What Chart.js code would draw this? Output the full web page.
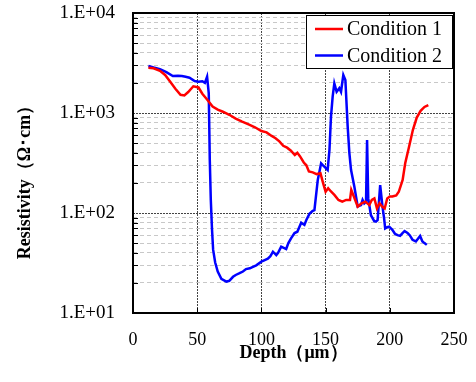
<!DOCTYPE html>
<html>
<head>
<meta charset="utf-8">
<script src="https://cdn.jsdelivr.net/npm/chart.js@4.4.1/dist/chart.umd.min.js"></script>
<style>
  html, body { margin: 0; padding: 0; background: #fff; }
  #wrap { width: 476px; height: 382px; }
</style>
</head>
<body>
<div id="wrap"><canvas id="resChart" width="476" height="382"></canvas></div>
<script>
const seriesNames = ["Condition 1", "Condition 2"];
const seriesColors = ["#FF0000", "#0000FF"];

const depth1 = [12, 16, 21, 25, 29, 33, 37, 40, 43, 47, 51, 54, 58, 62, 66, 70, 75, 80, 85, 90,
  95, 100, 104, 108, 111, 114, 117, 120, 123, 126, 128, 130, 133, 135, 137, 140, 143, 146, 148, 150,
  152, 154, 157, 160, 163, 166, 169, 170, 172, 175, 178, 181, 184, 186, 188, 190, 192, 194, 196, 198,
  200, 202, 205, 207, 210, 212, 215, 218, 221, 224, 227, 230];
const resist1 = [2840, 2800, 2640, 2400, 2050, 1750, 1520, 1500, 1620, 1850, 1800, 1560, 1350, 1160, 1080, 1030, 960, 880, 820, 770,
  720, 660, 640, 590, 560, 520, 470, 450, 420, 380, 400, 370, 320, 300, 260, 255, 245, 250, 200, 163,
  177, 165, 151, 135, 130, 135, 135, 170, 146, 116, 125, 130, 120, 135, 140, 111, 125, 116, 111, 140,
  146, 146, 150, 163, 214, 314, 460, 680, 900, 1050, 1150, 1200];

const depth2 = [12, 16, 21, 26, 31, 35, 38, 41, 44, 48, 51, 54, 56, 57.7, 59, 59.8, 60.6, 61.5, 62.4, 64,
  66, 68.8, 72.7, 75, 77.9, 80, 83, 85.6, 88, 91, 93.4, 96, 100, 103, 105, 107, 109, 111.6, 113, 115.4,
  117, 119.3, 121, 123.2, 125.8, 128, 131, 133.5, 135, 137.4, 140, 141.3, 143.9, 146.5, 148, 150.4, 151.6, 153, 154.2, 155.5,
  156.8, 158.6, 160.7, 162, 163.8, 165.4, 167.2, 168.5, 169.8, 172.4, 175, 177.6, 178.8, 180.1, 181.5, 182.3, 183.2, 185.3, 187.9, 189.2,
  190.5, 192.5, 194.3, 195.5, 196.4, 198, 199.5, 202, 204, 206, 208, 209.9, 211.5, 213.8, 215.5, 217.7, 220.3, 223.6, 225.4, 227, 228.8];
const resist2 = [2950, 2850, 2740, 2560, 2340, 2360, 2340, 2300, 2250, 2090, 2050, 2080, 2000, 2310, 1570, 340, 135, 70, 43, 32,
  26, 22, 20.6, 21, 23, 24, 25, 26, 27.5, 28, 29, 30, 32.6, 34, 35, 37, 41, 38, 40, 46,
  45, 43.6, 50, 56, 63, 65, 80, 76, 85, 98, 105, 107, 214, 314, 300, 280, 270, 427, 920, 1460,
  1980, 1630, 1770, 1630, 2400, 2140, 730, 400, 270, 183, 116, 120, 135, 125, 130, 537, 140, 95, 83, 82,
  85, 190, 116, 90, 70, 72, 73, 68, 62, 60, 59, 63, 66, 63, 60, 54, 52, 59, 52, 50, 48];

const xTicks = [0, 50, 100, 150, 200, 250];
const yDecades = [10, 100, 1000, 10000];

const serif = "'Liberation Serif', 'Times New Roman', serif";

function toPoints(xs, ys) {
  return xs.map((x, i) => ({ x: x, y: ys[i] }));
}

function isDecade(v) {
  return yDecades.indexOf(v) >= 0;
}

const frame = {
  id: "frame",
  afterDraw(chart) {
    const ctx = chart.ctx;
    const a = chart.chartArea;
    const ys = chart.scales.y;
    const xs = chart.scales.x;
    ctx.save();
    // inward tick marks
    ctx.strokeStyle = "#000";
    ctx.lineWidth = 1;
    ys.ticks.forEach(t => {
      if (isDecade(t.value)) return;
      const py = Math.round(ys.getPixelForValue(t.value)) + 0.5;
      ctx.beginPath();
      ctx.moveTo(a.left, py);
      ctx.lineTo(a.left + 5, py);
      ctx.stroke();
    });
    xs.ticks.forEach(t => {
      const px = Math.round(xs.getPixelForValue(t.value)) + 0.5;
      ctx.beginPath();
      ctx.moveTo(px, a.bottom);
      ctx.lineTo(px, a.bottom - 5);
      ctx.stroke();
    });
    // plot border
    ctx.lineWidth = 2;
    ctx.strokeRect(a.left, a.top, a.right - a.left, a.bottom - a.top);

    // legend box
    const lx = a.right - 148, ly = a.top + 2, lw = 146, lh = 53;
    ctx.fillStyle = "#fff";
    ctx.fillRect(lx, ly, lw, lh);
    ctx.lineWidth = 1;
    ctx.strokeStyle = "#000";
    ctx.strokeRect(lx + 0.5, ly + 0.5, lw, lh);
    ctx.font = "20px " + serif;
    ctx.textBaseline = "middle";
    ctx.textAlign = "left";
    chart.data.datasets.forEach((ds, i) => {
      const yy = ly + 14 + i * 26.5;
      ctx.strokeStyle = ds.borderColor;
      ctx.lineWidth = 2.5;
      ctx.beginPath();
      ctx.moveTo(lx + 9, yy);
      ctx.lineTo(lx + 37, yy);
      ctx.stroke();
      ctx.fillStyle = "#000";
      ctx.fillText(ds.label, lx + 41, yy + 1);
    });

    // y axis title
    ctx.translate(25, 178);
    ctx.rotate(-Math.PI / 2);
    ctx.textAlign = "center";
    ctx.font = "bold 18px " + serif;
    ctx.fillText("Resistivity（Ω･cm）", 0, 0);
    ctx.restore();
  }
};

new Chart("resChart", {
  type: "scatter",
  data: {
    datasets: [
      {
        label: seriesNames[0],
        data: toPoints(depth1, resist1),
        borderColor: seriesColors[0],
        backgroundColor: seriesColors[0],
        showLine: true,
        borderWidth: 2.5,
        pointRadius: 0,
        tension: 0
      },
      {
        label: seriesNames[1],
        data: toPoints(depth2, resist2),
        borderColor: seriesColors[1],
        backgroundColor: seriesColors[1],
        showLine: true,
        borderWidth: 2.5,
        pointRadius: 0,
        tension: 0
      }
    ]
  },
  options: {
    responsive: false,
    animation: false,
    layout: { padding: { top: 13, right: 22, left: 0, bottom: 0 } },
    plugins: {
      legend: { display: false },
      tooltip: { enabled: false }
    },
    scales: {
      x: {
        type: "linear",
        min: 0,
        max: 250,
        afterBuildTicks(scale) {
          scale.ticks = xTicks.map(v => ({ value: v }));
        },
        afterFit(scale) { scale.height = 69; },
        ticks: {
          color: "#000",
          font: { family: serif, size: 18 },
          padding: 0,
          maxRotation: 0
        },
        grid: {
          drawTicks: true,
          tickLength: 16,
          tickColor: "rgba(0,0,0,0)",
          color: ctx => (ctx.tick && ctx.tick.value > 0 && ctx.tick.value < 250) ? "#444" : "rgba(0,0,0,0)",
          lineWidth: 1
        },
        border: { display: false, dash: [2, 1] },
        title: {
          display: true,
          text: "Depth（μm）",
          color: "#000",
          font: { family: serif, size: 18, weight: "bold" },
          padding: { top: 0, bottom: 18 }
        }
      },
      y: {
        type: "logarithmic",
        min: 10,
        max: 10000,
        afterBuildTicks(scale) {
          const t = [];
          for (let d = 0; d < yDecades.length; d++) {
            const base = yDecades[d];
            if (d === yDecades.length - 1) { t.push({ value: base }); break; }
            for (let m = 1; m <= 9; m++) t.push({ value: base * m });
          }
          scale.ticks = t;
        },
        afterFit(scale) { scale.width = 133; },
        ticks: {
          autoSkip: false,
          color: "#000",
          font: { family: serif, size: 19 },
          padding: 0,
          callback: v => isDecade(v) ? "1.E+0" + Math.round(Math.log10(v)) : ""
        },
        grid: {
          drawTicks: true,
          tickLength: 18,
          tickColor: "rgba(0,0,0,0)",
          color: ctx => {
            const v = ctx.tick ? ctx.tick.value : 0;
            if (v === 10 || v === 10000) return "rgba(0,0,0,0)";
            return isDecade(v) ? "#444" : "#c8c8c8";
          },
          lineWidth: 1
        },
        border: {
          display: false,
          dash: ctx => (ctx.tick && isDecade(ctx.tick.value)) ? [2, 1] : [4, 3]
        }
      }
    }
  },
  plugins: [frame]
});
</script>
</body>
</html>
